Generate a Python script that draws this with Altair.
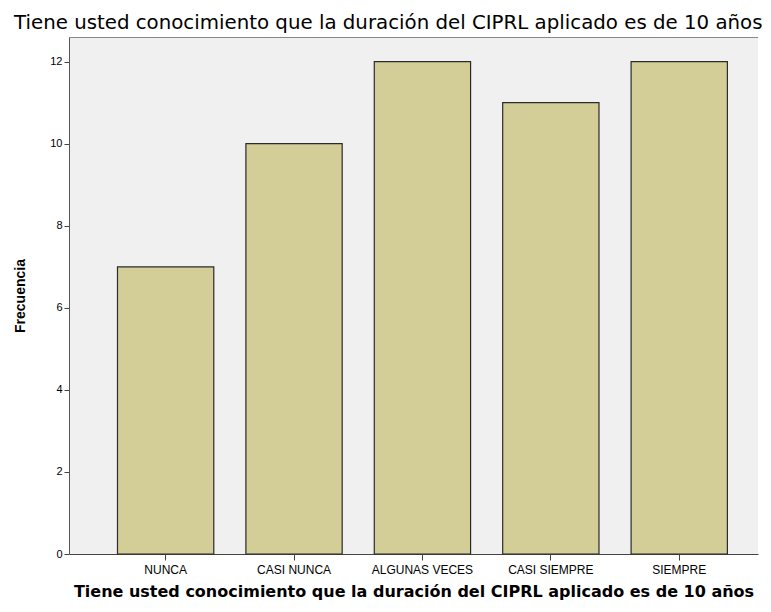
import altair as alt
import pandas as pd

categories = ["NUNCA", "CASI NUNCA", "ALGUNAS VECES", "CASI SIEMPRE", "SIEMPRE"]
frecuencia = [7, 10, 12, 11, 12]
y_ticks = [0, 2, 4, 6, 8, 10, 12]

title_text = "Tiene usted conocimiento que la duración del CIPRL aplicado es de 10 años"

df = pd.DataFrame({"cat": categories, "freq": frecuencia})

bars = alt.Chart(df).mark_bar(
    fill="#d3ce97", stroke="#2b2b2b", strokeWidth=1.2
).encode(
    x=alt.X("cat:N", sort=categories,
            scale=alt.Scale(paddingInner=0.25, paddingOuter=0.308, align=0.613),
            axis=alt.Axis(title=title_text, labelAngle=0, labelFontSize=12,
                          labelFont="Liberation Sans", labelColor="#000",
                          titleFont="DejaVu Sans", titleFontSize=16, titleFontWeight="bold",
                          titleColor="#000", titlePadding=8,
                          tickColor="#444", tickSize=6, domainColor="#444",
                          labelPadding=4)),
    y=alt.Y("freq:Q", scale=alt.Scale(domain=[0, 12.6], nice=False),
            axis=alt.Axis(title="Frecuencia", values=y_ticks, grid=False,
                          labelFontSize=11, labelFont="Liberation Sans", labelColor="#000",
                          titleFont="Liberation Sans", titleFontSize=14, titleFontWeight="bold",
                          titleColor="#000", titlePadding=22,
                          tickColor="#444", tickSize=5, domainColor="#555")),
)

top_line = alt.Chart(df).mark_rule(color="#888", strokeWidth=1.5, clip=True).encode(
    x=alt.value(0), x2=alt.value(760), y=alt.value(0)
)

chart = alt.layer(bars, top_line).properties(
    width=755, height=596,
    autosize=alt.AutoSizeParams(type="fit", contains="padding"),
    title=alt.TitleParams(title_text, font="DejaVu Sans", fontSize=19.8, fontWeight="normal",
                          color="#000", anchor="start", frame="group", dx=-55, offset=4),
    background="white",
).configure_view(
    fill="#f0f0f0", stroke=None
)

chart.save("out.html", embed_options={"renderer": "svg", "actions": False})
